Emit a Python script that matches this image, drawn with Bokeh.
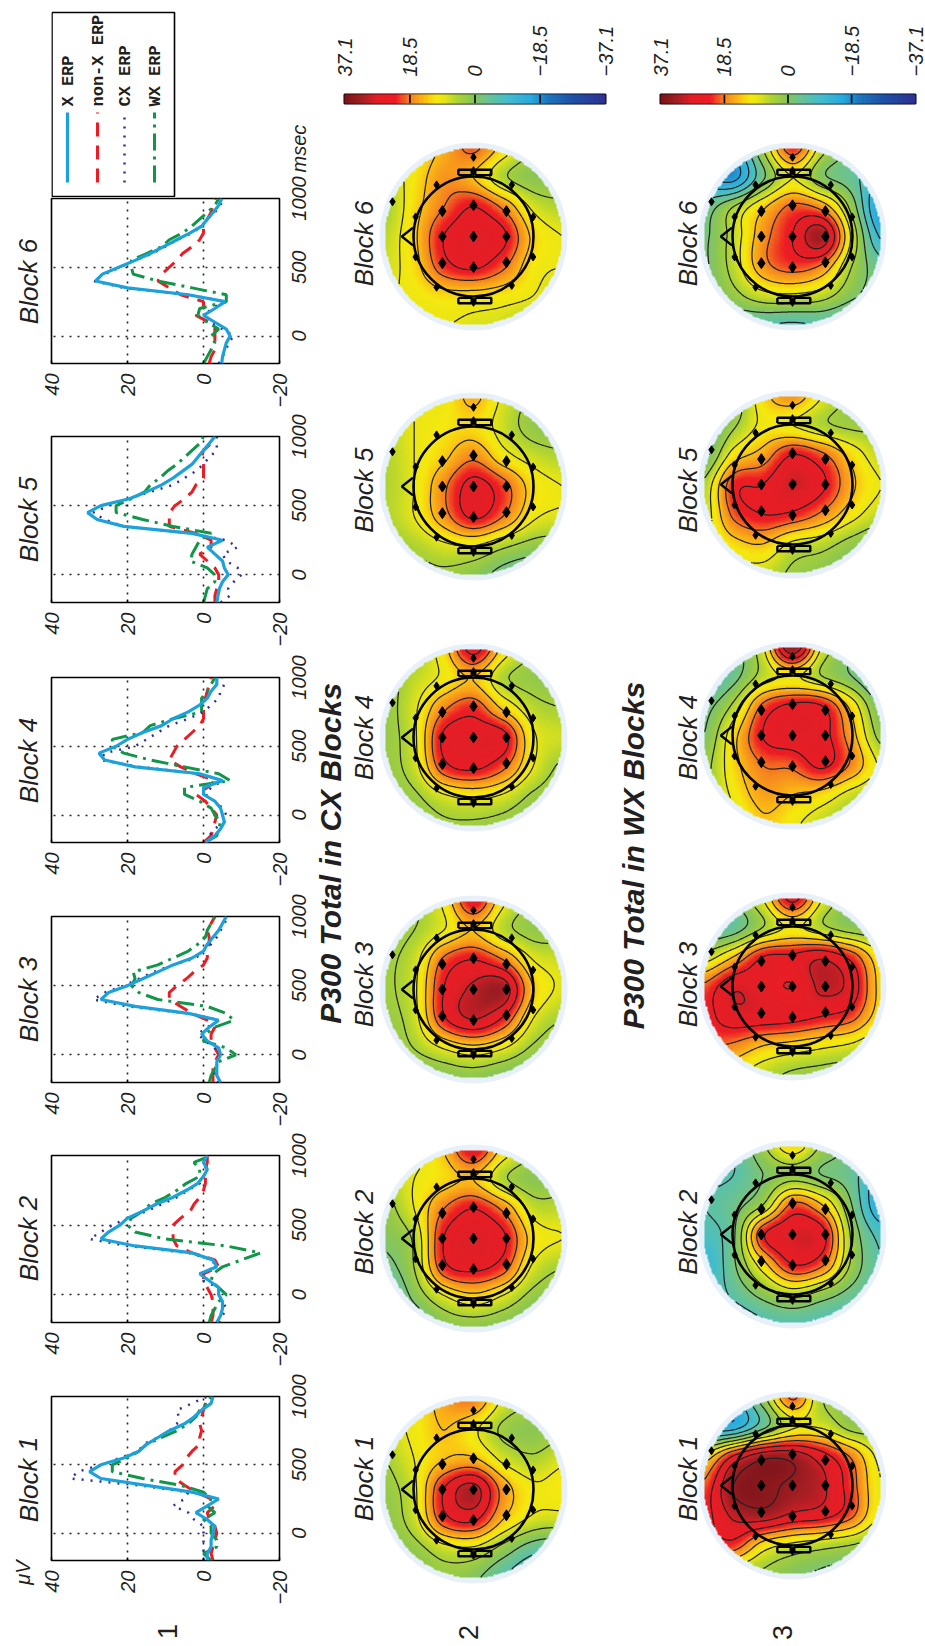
import numpy as np
from math import pi
from contourpy import contour_generator
from bokeh.plotting import figure
from bokeh.layouts import column, row
from bokeh.embed import file_html
from bokeh.resources import INLINE
from bokeh.core.properties import value
from bokeh.models import Range1d, FixedTicker, LinearColorMapper, Span

FONT = "Liberation Sans"
INK = "#231f20"
TIME = [-200,-150,-100,-50,0,50,100,150,200,250,300,350,400,450,500,550,600,650,700,750,800,850,900,950,1000]
TIME_TICKS = [0,500,1000]
TIME_LABELS = ["0","500","1000"]
VOLT_TICKS = [40,20,0,-20]

B6_X    = [-4.8,-5,-5.5,-6,-7,-6,-3,0,-3,-5.7,4,20,28.4,26.6,22.3,18,14,10.5,7,3.5,0.4,-1,-2.6,-4,-4.8]
B6_NONX = [-1.5,-2,-3,-3,-3,-3,-1.5,2,0,0,6,9,12,11,9,7,5.5,3,1,0,0,-1,-2,-2.5,-3]
B6_CX   = [-4,-5,-6,-6.5,-8,-5,-2,-0.5,-2,-6,4,21,29,26,22,18,13.5,10,7,3,0.5,-1,-3,-4.5,-5]
B6_WX   = [0,-1,-2,-3,-2,-4,-1,1.5,1,-6,-6,3,12,18.5,19,19,15,11,9,5.5,3,1,-1,-3,-4]

B5_X    = [-3.5,-3.8,-4.2,-5,-6.5,-5.5,-5,-3,-1,-5,3,21,28,30.5,27,19.5,15,11,8,5.5,3,1.5,0,-1.5,-3]
B5_NONX = [-3,-3,-3.5,-4,-4,-3,-1,1,-2,-2,2,9,9,9,7.5,5,3,2,0,0,0,0.5,0,-2,-2]
B5_CX   = [-4.5,-7,-6.5,-8,-10,-9,-6,-5,-9,-6,3,21,26,29,25,20,14,8,5,2,0,-1.5,-3.5,-3.5,-3.5]
B5_WX   = [0,-0.5,-1,-3,-3,-1,3.5,3,2,1,-2,8,16,23,23,19,15.5,14,11.5,9.5,7,5,3,1,0]

B4_X    = [-0.5,-3,-4.5,-5.5,-5,-4.5,-3,0,0,-5,1,18,26,27.5,23,20,16,11,8,4,1,-1,-2,-3.5,-3.5]
B4_NONX = [0,-2,-2.5,-3,-3.5,-2,-0.5,2,-1,-3,2,6,9,8,7,5,3,1,0,0,0,-0.5,-1,-1.5,-2]
B4_CX   = [-0.5,-1.5,-3,-5.5,-6,-5,-3,-0.5,-2,-5,1,17,27,26,18,15,12,9,4,0,-2,-4,-4.5,-5.5,-5]
B4_WX   = [-0.5,-3.5,-4,-4.5,-3,-2,1,5,5,-7,-4,5,14,21,24,24,16,14,8,0.5,0.5,0.5,-1,-2,-3]

B3_X    = [-4.5,-3.5,-3.5,-3.5,-4.5,-4,-1,0.5,-1.5,-4,4,18,27,25,20,16,12,8,3,0,-1,-2.5,-4,-5,-6]
B3_NONX = [-2.5,-2.5,-2.5,-3,-4,-3,-2,-2,-3,-1,3,6,9,9,7,4.5,2.5,0,-1,-1,-1.5,-1.5,-1,-2,-3]
B3_CX   = [-4,-3,-3,-4,-4,-3,-0.5,1.5,-1,-4,4,20,29,26,21,17,13,8,2,0,-2,-3.5,-4.5,-5.5,-6.5]
B3_WX   = [-1.5,-2,-3,-4,-8.5,-6,0,-0.5,-3,-8,-6,-1,12,17,19,18,18.5,12,8,4,1.5,-0.5,-1,-2,-3]

B2_X    = [-3.5,-4.5,-5,-5,-4,-4,-1.5,1,-3.5,-2.5,3,18,27,25,22,20,16,12.5,8,4.5,1.5,0,-1,0,-1]
B2_NONX = [-2,-2.5,-2.5,-2.5,-2,-1,0,0,-4,-3,3,7,8,8,8,6,3.5,2.5,1,0,-0.5,-0.5,-0.5,-1,-1]
B2_CX   = [-4,-5,-6,-5,-4,-4,0,0.5,-3,-2.5,4,20,30,27,24,20,15,11,7,4,1,0,-1,-0.5,-1]
B2_WX   = [-1.5,-2,-3,-4,-6,-4,-2,-2.5,-5,-10,-15,-6,10,18,20,19,16,14,10,7,4.5,1,1,2.5,-2]

B1_X    = [-1,-1,-2,-2,-2.5,-3,-1,2,-1,-4,3,15,27,30,27,21,17,15,12,9,5,2.5,0.5,-2,-2.5]
B1_NONX = [-2.5,-2,-2.5,-3,-3.5,-3,-1.5,-1,-3,-2,2,5,7.5,7.5,5.5,4.5,3,1,1,0.5,1,0.5,0,-0.5,-1]
B1_CX   = [0,0,0,0,0,0,2.5,4,8,5,4,17,35,33,27,22,17,16,12,9,7,6.5,7,3,-1]
B1_WX   = [-2,0,-3.5,-3.5,-2,-2,0,-3,-1,-2,0,6,16,24,24,20,17,15,11,7,4,2,1,-1,-2]

ERP = {6:(B6_X,B6_NONX,B6_CX,B6_WX),5:(B5_X,B5_NONX,B5_CX,B5_WX),4:(B4_X,B4_NONX,B4_CX,B4_WX),
       3:(B3_X,B3_NONX,B3_CX,B3_WX),2:(B2_X,B2_NONX,B2_CX,B2_WX),1:(B1_X,B1_NONX,B1_CX,B1_WX)}

CX6 = [[8,10,15,20,12,4,2],[6,11,17,14,5,1,1],[4,12,19,24,18,8,5],[6,13,24,27,25,13,9],[7,12,22,25,20,11,9],[8,10,12,12,11,9,5],[6,8,9,8,7,4,3]]
CX5 = [[8,9,10,15,8,3,2],[6,9,11,12,7,2,1],[5,9,13,18,11,7,5],[5,9,18,26,21,12,9],[5,9,17,25,19,10,8],[3,5,8,9,5,2,1],[1,2,3,1,-3,-6,-8]]
CX4 = [[2,4,12,26,12,4,2],[2,6,10,14,5,2,1],[2,8,18,22,13,6,4],[2,8,25,27,26,10,7],[2,7,22,25,20,9,3],[1,3,8,10,8,3,1],[-1,1,3,3,2,0,0]]
CX3 = [[1,3,10,24,10,3,2],[2,4,9,14,6,2,2],[3,7,20,24,19,9,7],[3,8,24,30,32,14,8],[2,7,23,29,23,9,4],[0,4,9,12,9,3,0],[-4,-2,0,1,-1,-3,-4]]
CX2 = [[5,7,14,24,12,5,3],[5,9,12,14,5,1,2],[2,9,19,24,18,7,6],[0,5,24,28,25,12,9],[-3,4,22,25,21,8,4],[-8,0,8,12,8,2,0],[-10,-6,0,1,0,-3,-5]]
CX1 = [[6,10,16,18,8,4,4],[7,10,14,10,3,1,3],[4,9,14,15,8,5,8],[2,8,24,31,17,10,11],[1,7,22,25,14,8,7],[0,2,7,8,2,-4,-6],[-3,-1,2,0,-6,-12,-14]]
WX6 = [[-10,-14,4,22,6,-2,-6],[-14,-18,-2,9,0,-4,-12],[-4,4,13,20,17,2,-18],[-2,6,17,24,32,8,-12],[-2,6,17,21,18,4,-4],[-4,2,7,8,6,0,-4],[-8,-6,-6,-7,-6,-8,-8]]
WX5 = [[-6,0,12,17,9,3,2],[-6,3,10,9,5,3,3],[-3,11,16,24,20,12,6],[5,22,24,29,25,15,9],[6,20,24,23,18,11,6],[6,12,14,8,6,2,-1],[3,6,7,3,1,-2,-4]]
WX4 = [[-8,-4,8,34,8,0,-3],[-8,-3,6,10,4,-1,-8],[-3,5,20,25,24,12,-2],[-1,12,24,27,26,16,2],[2,12,19,20,25,18,8],[2,10,16,14,12,7,4],[0,6,13,10,6,3,1]]
WX3 = [[-2,0,9,26,9,1,-1],[-6,-4,4,10,5,1,0],[6,14,24,25,28,22,10],[20,28,26,24,30,27,12],[22,27,27,26,24,21,11],[20,18,14,12,10,8,4],[10,10,6,3,2,1,0]]
WX2 = [[-8,-6,3,12,3,-2,-6],[-7,-6,-1,2,-1,-4,-14],[-6,-3,4,20,14,-1,-16],[-8,-2,23,28,26,3,-8],[-12,-2,12,24,20,3,-6],[-10,-5,1,6,2,-3,-7],[-10,-10,-7,-6,-7,-9,-10]]
WX1 = [[-10,-12,2,20,4,3,2],[-14,-14,-3,8,8,2,2],[10,24,32,32,26,18,7],[20,34,35,33,30,21,9],[22,30,32,28,26,20,8],[20,22,12,8,6,4,1],[8,5,3,0,-2,-4,-6]]

ELEC_INNER_X = [-0.35,0,0.37,-0.35,0,0.37,-0.35,0,0.37]
ELEC_INNER_Y = [0.285,0.35,0.285,0,0,0,-0.30,-0.345,-0.29]
ELEC_OUTER_X = [0,-0.91,-0.415,0.43,-0.65,-0.65,0.67,0.67,-0.415,0.43,0,0]
ELEC_OUTER_Y = [0.89,0.39,0.58,0.58,0.22,-0.23,0.22,-0.23,-0.57,-0.55,-0.74,0.74]

SCALE_TICKS = [37.1,18.5,0,-18.5,-37.1]
SCALE_LABELS = {37.1:"37.1",18.5:"18.5",0:"0",-18.5:"\u221218.5",-37.1:"\u221237.1"}

ANCHORS = [(-37.1,(46,49,146)),(-28,(30,80,165)),(-21,(28,117,188)),(-16,(39,170,225)),(-9,(70,190,200)),
           (-3,(110,195,140)),(1,(141,198,80)),(5,(175,212,50)),(9,(235,230,20)),(11,(245,232,15)),(14,(250,190,20)),
           (18.5,(245,130,32)),(22.5,(237,28,36)),(28,(225,30,38)),(32,(165,30,35)),(37.1,(120,20,25))]
_v = np.linspace(-37.1,37.1,256)
_a = np.array([a[0] for a in ANCHORS]); _c = np.array([a[1] for a in ANCHORS],float)
PALETTE = ["#%02x%02x%02x"%tuple(int(round(np.interp(v,_a,_c[:,k]))) for k in range(3)) for v in _v]
CM = LinearColorMapper(palette=PALETTE, low=-37.1, high=37.1, nan_color="#00000000")

def cubic(a, n, axis):
    a = np.moveaxis(np.asarray(a,float),axis,0)
    m = a.shape[0]
    s = np.linspace(0,m-1,n); i = np.clip(np.floor(s).astype(int),0,m-2); f = s-i
    p0,p1,p2,p3 = a[np.clip(i-1,0,m-1)],a[i],a[i+1],a[np.clip(i+2,0,m-1)]
    f = f.reshape((-1,)+(1,)*(a.ndim-1))
    r = 0.5*(2*p1+(p2-p0)*f+(2*p0-5*p1+4*p2-p3)*f**2+(3*p1-p0-3*p2+p3)*f**3)
    return np.moveaxis(r,0,axis)

def blank(left,right,top,bot):
    p = figure(width=right-left,height=bot-top,min_border=0,toolbar_location=None,output_backend="svg",
               x_range=Range1d(left,right),y_range=Range1d(bot,top))
    p.axis.visible=False; p.grid.visible=False; p.outline_line_color=None
    return p

def vtext(p,x,y,t,size,style="normal",align="center",font=FONT):
    p.text(x=[x],y=[y],text=[t],angle=[pi/2],text_align=align,text_baseline="middle",
           text_font=value(font),text_font_size=size,text_font_style=style,text_color=INK)

FTOP = {6:198,5:436,4:677,3:916,2:1155,1:1396}
FBOT = {6:363,5:602,4:842,3:1082,2:1322,1:1560}
CELLTOP = {6:197,5:412,4:653,3:892,2:1131,1:1372}
CELLBOT = {6:412,5:653,4:892,3:1131,2:1372,1:1610}
ERP_LABEL_Y = {b:FTOP[b]+83 for b in FTOP}
STYLE = {"nonx":dict(color="#ed1c24",line_width=3,line_dash="14 9"),
         "wx":dict(color="#0f9648",line_width=3,line_dash="17 6 3 6"),
         "cx":dict(color="#2e3192",line_width=2.5,line_dash="2 7"),
         "x":dict(color="#1ba1dc",line_width=3.2)}
SIDE_L, SIDE_R = 9, 10

def erp_panel(b):
    ft,fb = FTOP[b],FBOT[b]
    p = figure(frame_width=228, frame_height=fb-ft, min_border_left=SIDE_L, min_border_right=SIDE_R,
               min_border_top=ft-CELLTOP[b], min_border_bottom=CELLBOT[b]-fb,
               x_range=Range1d(40,-20), y_range=Range1d(-200,1000), y_axis_location=None,
               toolbar_location=None, output_backend="svg")
    p.outline_line_color="black"; p.outline_line_width=1.6; p.outline_line_alpha=1
    ax=p.xaxis
    ax.ticker=FixedTicker(ticks=VOLT_TICKS)
    ax.major_label_overrides={-20:"\u221220"}
    ax.major_label_orientation=pi/2
    ax.major_label_text_font=FONT; ax.major_label_text_font_size="20px"
    ax.major_label_text_font_style="italic"; ax.major_label_text_color=INK
    ax.major_label_standoff=10
    ax.axis_line_color=None; ax.major_tick_in=3; ax.major_tick_out=0; ax.minor_tick_line_color=None
    ax.major_tick_line_color="black"; ax.major_tick_line_width=1.5
    p.xgrid.ticker=FixedTicker(ticks=[20,0]); p.ygrid.ticker=FixedTicker(ticks=[0,500])
    for g in (p.xgrid,p.ygrid):
        g.grid_line_color="#222222"; g.grid_line_dash="2 6"; g.grid_line_width=1.6
    x,nx,cx,wx = ERP[b]
    p.line(nx,TIME,**STYLE["nonx"]); p.line(wx,TIME,**STYLE["wx"])
    p.line(cx,TIME,**STYLE["cx"]); p.line(x,TIME,**STYLE["x"])
    return p

def inner(top,bot):
    p = figure(frame_width=228,frame_height=bot-top,min_border_left=SIDE_L,min_border_right=SIDE_R,
               min_border_top=0,min_border_bottom=0,toolbar_location=None,output_backend="svg",
               x_range=Range1d(51,279),y_range=Range1d(bot,top))
    p.axis.visible=False; p.grid.visible=False; p.outline_line_color=None
    return p

leg = inner(0,197)
leg.line([51.5,174,174,51.5,51.5],[12,12,196,196,12],line_color="black",line_width=1.6)
LEG = [("X ERP",67,"x"),("non-X ERP",97,"nonx"),("CX ERP",124,"cx"),("WX ERP",154,"wx")]
for txt,xp,k in LEG:
    leg.line([xp,xp],[182,112],**STYLE[k])
    vtext(leg,xp+1,106,txt,"17px","bold",align="left",font="Liberation Mono")

foot = inner(1610,1646)
vtext(foot,167,1631,"1","27px")

mid = column(leg,*[erp_panel(b) for b in [6,5,4,3,2,1]],foot)

lstrip = blank(0,42,0,1646)
for b in FTOP:
    vtext(lstrip,28,ERP_LABEL_Y[b],f"Block {b}","26px","italic")
vtext(lstrip,22,1572,"\u03bcV","20px","italic")

rstrip = blank(289,312,0,1646)
for b in FTOP:
    for tk,lb in zip(TIME_TICKS,TIME_LABELS):
        py = FBOT[b]-(tk+200)*(FBOT[b]-FTOP[b])/1200
        vtext(rstrip,298.5,py,lb,"20px","italic")
vtext(rstrip,298.5,172,"msec","20px","italic",align="left")

col_a = row(lstrip,mid,rstrip)

R = 89.0
TOPS = [122,361,612,863,1114,1364,1646]
LABEL_Y = [243,489.7,737,984,1231.7,1478]
LEVELS = [k*5.0-1 for k in range(-7,9)]

def topo(grid,i,b,cx,cy,left,right,label_x,row_label=None):
    top,bot = TOPS[i],TOPS[i+1]
    p = figure(width=right-left,height=bot-top,min_border=0,toolbar_location=None,output_backend="svg",
               x_range=Range1d((left-cx)/R,(right-cx)/R),y_range=Range1d((cy-bot)/R,(cy-top)/R))
    p.axis.visible=False; p.grid.visible=False; p.outline_line_color=None
    n=150
    z = cubic(cubic(np.array(grid,float)[::-1],n,0),n,1)
    xs = np.linspace(-1,1,n); X,Y = np.meshgrid(xs,xs); r=np.hypot(X,Y)
    zi = z.copy(); zi[r>1]=np.nan
    p.circle(x=[0],y=[0],radius=1.056,fill_color="#e8f1f9",line_color=None)
    p.image(image=[zi],x=-1,y=-1,dw=2,dh=2,color_mapper=CM)
    gen = contour_generator(x=xs,y=xs,z=np.ma.masked_where(r>0.995,z))
    lx,ly=[],[]
    for lv in LEVELS:
        for l in gen.lines(lv):
            lx.append(l[:,0].tolist()); ly.append(l[:,1].tolist())
    p.multi_line(lx,ly,line_color="#222222",line_width=1.25)
    p.circle(x=[0],y=[0],radius=0.674,fill_color=None,line_color="black",line_width=2.6)
    p.line([-0.68,-0.805,-0.68],[0.1,0,-0.1],line_color="black",line_width=2.4)
    for s in (1,-1):
        p.multi_line([[-0.17,-0.02,-0.02,-0.17,-0.17],[0.02,0.2,0.2,0.02,0.02]],
                     [[s*.69,s*.69,s*.75,s*.75,s*.69],[s*.69,s*.69,s*.75,s*.75,s*.69]],line_color="black",line_width=2.4)
    p.scatter(ELEC_INNER_X,ELEC_INNER_Y,marker="diamond",size=11,color="black")
    p.scatter(ELEC_OUTER_X,ELEC_OUTER_Y,marker="diamond",size=8,color="black")
    vtext(p,label_x,(cy-LABEL_Y[i])/R,f"Block {b}","26px","italic")
    if row_label:
        vtext(p,(row_label[1]-cx)/R,(cy-1632)/R,row_label[0],"27px")
    return p

def scalebar(left,right,bar_l,bar_r):
    p = figure(frame_width=bar_r-bar_l,frame_height=9,min_border_left=bar_l-left,min_border_right=right-bar_r,
               min_border_top=94,min_border_bottom=19,x_axis_location="above",
               x_range=Range1d(37.1,-37.1),y_range=Range1d(0,1),toolbar_location=None,output_backend="svg")
    p.grid.visible=False; p.yaxis.visible=False
    p.outline_line_color="black"; p.outline_line_width=2
    grad = np.linspace(37.1,-37.1,200)
    cols = [PALETTE[int((v+37.1)/74.2*255)] for v in grad[:-1]]
    p.quad(left=grad[:-1],right=grad[1:],bottom=0,top=1,fill_color=cols,line_color=cols,line_width=1)
    for v in [18.5,0,-18.5]:
        p.add_layout(Span(location=v,dimension="height",line_color="black",line_width=1.6))
    ax=p.xaxis
    ax.ticker=FixedTicker(ticks=SCALE_TICKS); ax.major_label_overrides=SCALE_LABELS
    ax.major_label_orientation=pi/2; ax.major_label_standoff=12
    ax.major_label_text_font=FONT; ax.major_label_text_font_size="20px"; ax.major_label_text_font_style="italic"
    ax.major_label_text_color=INK; ax.axis_line_color=None; ax.major_tick_line_color=None; ax.minor_tick_line_color=None
    return p

def strip(left,right,cx,cy,txt):
    p = blank(left,right,122,1646)
    vtext(p,cx,cy,txt,"30px","bold italic")
    return p

C_CY=[236,486,737,989,1238,1489]
E_CY=[236,484,735,986,1234,1485]
CXS=[CX6,CX5,CX4,CX3,CX2,CX1]; WXS=[WX6,WX5,WX4,WX3,WX2,WX1]
col_c = column(*[topo(CXS[i],i,6-i,473,C_CY[i],348,617,(363-473)/R,("2",468) if i==5 else None) for i in range(6)])
col_e = column(*[topo(WXS[i],i,6-i,792,E_CY[i],652,925,(687-792)/R,("3",782) if i==5 else None) for i in range(6)])
block_c = column(scalebar(312,617,344,605),row(strip(312,348,330,853,"P300 Total in CX Blocks"),col_c))
block_e = column(scalebar(617,925,660,915),row(strip(617,652,633,855,"P300 Total in WX Blocks"),col_e))
root = row(col_a,block_c,block_e)
open("out.html","w").write(file_html(root,INLINE))
